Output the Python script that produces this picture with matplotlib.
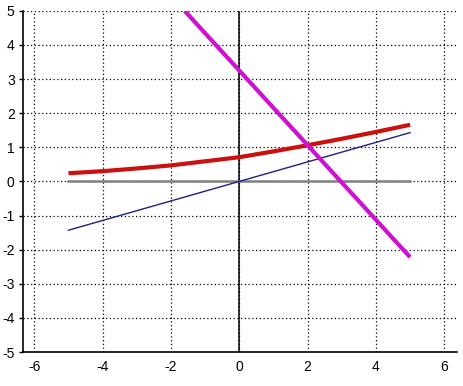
import matplotlib
matplotlib.use("Agg")
import matplotlib.pyplot as plt
import numpy as np

# values
red_x = [-5, -4, -3, -2, -1, 0, 1, 2, 3, 4, 5]
red_y = [0.24, 0.30, 0.38, 0.47, 0.59, 0.71, 0.88, 1.06, 1.25, 1.45, 1.66]

blue_x = [-5, 5]
blue_y = [-1.43, 1.43]

magenta_x = [-1.6, 5]
magenta_y = [5.0, -2.22]

gray_x = [-5, 5]
gray_y = [0, 0]

xticks = [-6, -4, -2, 0, 2, 4, 6]
yticks = [-5, -4, -3, -2, -1, 0, 1, 2, 3, 4, 5]

plt.rcParams['font.family'] = ['Liberation Sans', 'DejaVu Sans']
plt.rcParams['axes.unicode_minus'] = False  # plain hyphen like the original

fig = plt.figure(figsize=(4.64, 3.86), dpi=100)
ax = fig.add_axes([0.0496, 0.088, 0.9344, 0.884])

ax.set_xlim(-6.33, 6.36)
ax.set_ylim(-5, 5)
ax.set_xticks(xticks)
ax.set_yticks(yticks)

# dotted grid
ax.grid(True, color='black', linestyle=(0, (1, 2)), linewidth=0.9)
ax.set_axisbelow(True)

ax.spines['top'].set_visible(False)
ax.spines['right'].set_visible(False)
ax.spines['left'].set_linewidth(1.2)
ax.spines['bottom'].set_linewidth(1.2)

ax.tick_params(axis='y', length=3, width=1, pad=3, labelsize=10)
ax.tick_params(axis='x', length=0, pad=6, labelsize=10)

# vertical axis through the origin
ax.axvline(0, color='black', linewidth=1.1)

ax.plot(gray_x, gray_y, color='#808080', linewidth=1.8)
ax.plot(blue_x, blue_y, color='#202080', linewidth=1)
ax.plot(red_x, red_y, color='#cc1010', linewidth=3, solid_capstyle='butt')
ax.plot(magenta_x, magenta_y, color='#d010d0', linewidth=3, solid_capstyle='butt')

fig.savefig('out.png', dpi=100)
